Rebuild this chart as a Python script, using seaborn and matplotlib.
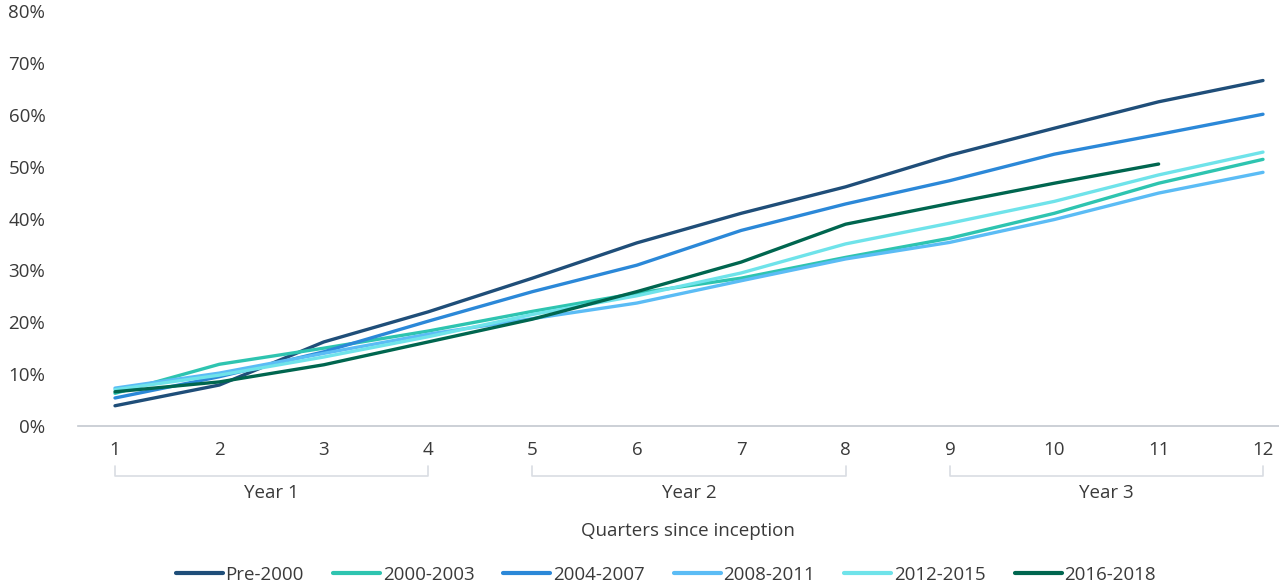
import numpy as np
import pandas as pd
import matplotlib
matplotlib.use("Agg")
import matplotlib.pyplot as plt
import seaborn as sns

quarters = list(range(1, 13))
year_labels = ["Year 1", "Year 2", "Year 3"]
cohorts = ["Pre-2000", "2000-2003", "2004-2007", "2008-2011", "2012-2015", "2016-2018"]

pre_2000 = [3.9, 7.9, 16.2, 22.0, 28.5, 35.3, 41.0, 46.1, 52.2, 57.4, 62.5, 66.6]
c_2000_2003 = [6.3, 11.9, 15.0, 18.3, 22.1, 25.6, 28.5, 32.5, 36.2, 41.0, 46.8, 51.4]
c_2004_2007 = [5.4, 9.5, 14.3, 20.2, 25.9, 31.0, 37.7, 42.8, 47.3, 52.4, 56.2, 60.1]
c_2008_2011 = [7.3, 10.2, 14.0, 17.7, 20.7, 23.7, 28.0, 32.2, 35.4, 39.8, 44.9, 48.9]
c_2012_2015 = [7.0, 9.8, 13.3, 17.2, 21.5, 25.1, 29.5, 35.1, 39.1, 43.3, 48.4, 52.8]
c_2016_2018 = [6.6, 8.5, 11.8, 16.2, 20.6, 25.9, 31.6, 38.9, 42.9, 46.8, 50.5, np.nan]

colors = ["#1f4e79", "#2ec4b0", "#2b88d8", "#5bbcf5", "#6fe3ea", "#00664f"]

series = [pre_2000, c_2000_2003, c_2004_2007, c_2008_2011, c_2012_2015, c_2016_2018]
df = pd.DataFrame({
    "quarter": np.tile(quarters, len(cohorts)),
    "share": np.concatenate([np.array(s, dtype=float) / 100 for s in series]),
    "cohort": np.repeat(cohorts, len(quarters)),
})
df = df.dropna()

sns.set_theme(style="white")
plt.rcParams["font.family"] = ["Open Sans", "DejaVu Sans"]
text_color = "#3a3a3a"
fs = 13.5

fig = plt.figure(figsize=(12.79, 5.86), dpi=100)
ax = fig.add_axes([78 / 1279, 1 - 426 / 586, 1 - 78 / 1279, (426 - 11) / 586])

sns.lineplot(data=df, x="quarter", y="share", hue="cohort", hue_order=cohorts,
             palette=colors, linewidth=2.4, ax=ax, legend=False)

ax.set_xlim(1 - 37 / 104.36, 12 + 16 / 104.36)
ax.set_ylim(0, 0.8)
ax.set_yticks(np.arange(0, 0.81, 0.1))
ax.set_yticklabels([f"{int(round(v * 100))}%" for v in np.arange(0, 0.81, 0.1)])
ax.set_xticks(quarters)
ax.set_xticklabels([str(q) for q in quarters])
ax.tick_params(axis="both", length=0, labelsize=fs, colors=text_color)
ax.tick_params(axis="x", pad=11)
ax.tick_params(axis="y", pad=23.5)

for side in ["top", "right", "left"]:
    ax.spines[side].set_visible(False)
ax.spines["bottom"].set_color("#c3c8cf")
ax.spines["bottom"].set_linewidth(1.2)
ax.set_xlabel("")
ax.set_ylabel("")

# Year brackets under the quarter labels
trans = ax.get_xaxis_transform()
bracket_y = -(476 - 426) / 415
tick_top = -(466 - 426) / 415
for i, label in enumerate(year_labels):
    x0, x1 = 1 + 4 * i, 4 + 4 * i
    ax.plot([x0, x0, x1, x1], [tick_top, bracket_y, bracket_y, tick_top],
            transform=trans, color="#d9dde3", lw=1.2, clip_on=False)
    ax.text((x0 + x1) / 2, -(493 - 426) / 415, label, transform=trans,
            ha="center", va="center", fontsize=fs, color=text_color)

fig.text(688 / 1279, 1 - 531 / 586, "Quarters since inception",
         ha="center", va="center", fontsize=fs, color=text_color)

handles = [plt.Line2D([0], [0], color=c, lw=3) for c in colors]
fig.legend(handles, cohorts, loc="center", bbox_to_anchor=(666 / 1279, 1 - 575 / 586),
           ncol=6, frameon=False, fontsize=fs, handlelength=2.5, handletextpad=0.15,
           columnspacing=1.55, labelcolor=text_color)

fig.savefig("out.png", dpi=100)
